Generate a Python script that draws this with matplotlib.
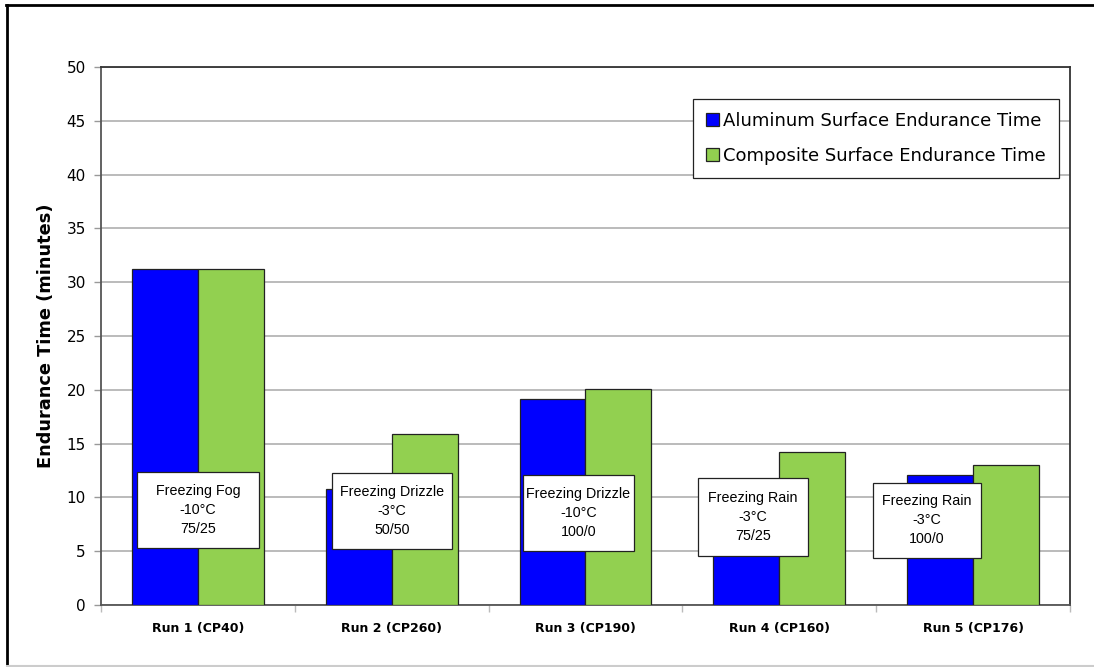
import matplotlib
matplotlib.use("Agg")
import matplotlib.pyplot as plt
from matplotlib.patches import Rectangle
from matplotlib.lines import Line2D
import numpy as np

plt.rcParams['font.family'] = ['DejaVu Sans']

# Data
runs = ["Run 1 (CP40)", "Run 2 (CP260)", "Run 3 (CP190)", "Run 4 (CP160)", "Run 5 (CP176)"]
aluminum = [31.2, 10.8, 19.1, 11.3, 12.1]
composite = [31.2, 15.9, 20.1, 14.2, 13.0]
conditions = [
    "Freezing Fog\n-10°C\n75/25",
    "Freezing Drizzle\n-3°C\n50/50",
    "Freezing Drizzle\n-10°C\n100/0",
    "Freezing Rain\n-3°C\n75/25",
    "Freezing Rain\n-3°C\n100/0",
]
yticks = [0, 5, 10, 15, 20, 25, 30, 35, 40, 45, 50]

# Label box extents: (left, right) offsets from category centre, (bottom, top) in minutes
box_x = [(-0.314, 0.315), (-0.308, 0.311), (-0.322, 0.250), (-0.419, 0.148), (-0.517, 0.041)]
box_y = [(5.30, 12.36), (5.20, 12.27), (5.02, 12.08), (4.55, 11.80), (4.37, 11.34)]

fig = plt.figure(figsize=(10.94, 6.67), dpi=100)
ax = fig.add_axes([0.0923, 0.093, 0.8857, 0.8066])

x = np.arange(len(runs))
w = 0.34
ax.bar(x - w / 2, aluminum, w, color="#0000FF", edgecolor="#222222", linewidth=0.9, zorder=3,
       label="Aluminum Surface Endurance Time")
ax.bar(x + w / 2, composite, w, color="#92D050", edgecolor="#222222", linewidth=0.9, zorder=3,
       label="Composite Surface Endurance Time")

for i, txt in enumerate(conditions):
    x0, x1 = box_x[i]
    y0, y1 = box_y[i]
    ax.add_patch(Rectangle((i + x0, y0), x1 - x0, y1 - y0, facecolor="white",
                           edgecolor="#222222", linewidth=0.9, zorder=4))
    ax.text(i + (x0 + x1) / 2, (y0 + y1) / 2, txt, ha="center", va="center",
            family=["Liberation Sans", "DejaVu Sans"], fontsize=10.3,
            linespacing=1.45, zorder=5)

ax.set_xlim(-0.5, len(runs) - 0.5)
ax.set_ylim(0, 50)
ax.set_yticks(yticks)
ax.tick_params(axis="y", labelsize=11, length=5, color="#999999", width=1, pad=6)
ax.set_xticks(x)
ax.set_xticklabels(runs, fontsize=9, fontweight="bold")
ax.tick_params(axis="x", which="major", length=0, pad=12)
ax.set_xticks(np.arange(-0.5, len(runs)), minor=True)
ax.tick_params(axis="x", which="minor", length=5, color="#bbbbbb", width=1)

ax.grid(axis="y", color="#bbbbbb", linewidth=1.4, zorder=0)
ax.set_axisbelow(True)
for side in ["left", "bottom"]:
    ax.spines[side].set_color("#555555")
    ax.spines[side].set_linewidth(1.3)
for side in ["top", "right"]:
    ax.spines[side].set_color("#333333")
    ax.spines[side].set_linewidth(1.3)

ax.set_ylabel("Endurance Time (minutes)", fontsize=12.8, fontweight="bold", labelpad=8)

leg = ax.legend(loc="upper right", bbox_to_anchor=(0.968, 0.8516), bbox_transform=fig.transFigure,
                fontsize=13, frameon=True, fancybox=False, framealpha=1,
                edgecolor="#222222", handlelength=0.7, handleheight=0.7, handletextpad=0.25,
                labelspacing=0.95, borderpad=0.72, borderaxespad=0)
leg.get_frame().set_linewidth(0.9)
leg.set_zorder(6)

# Outer frame of the figure
fig.add_artist(Line2D([0.0064, 0.0064], [0.0015, 0.9925], transform=fig.transFigure,
                      color="black", linewidth=2))
fig.add_artist(Line2D([0.0055, 1.0], [0.9925, 0.9925], transform=fig.transFigure,
                      color="black", linewidth=2))
fig.add_artist(Line2D([0.0064, 1.0], [0.0015, 0.0015], transform=fig.transFigure,
                      color="#cccccc", linewidth=1.5))

fig.savefig("out.png", dpi=100)
